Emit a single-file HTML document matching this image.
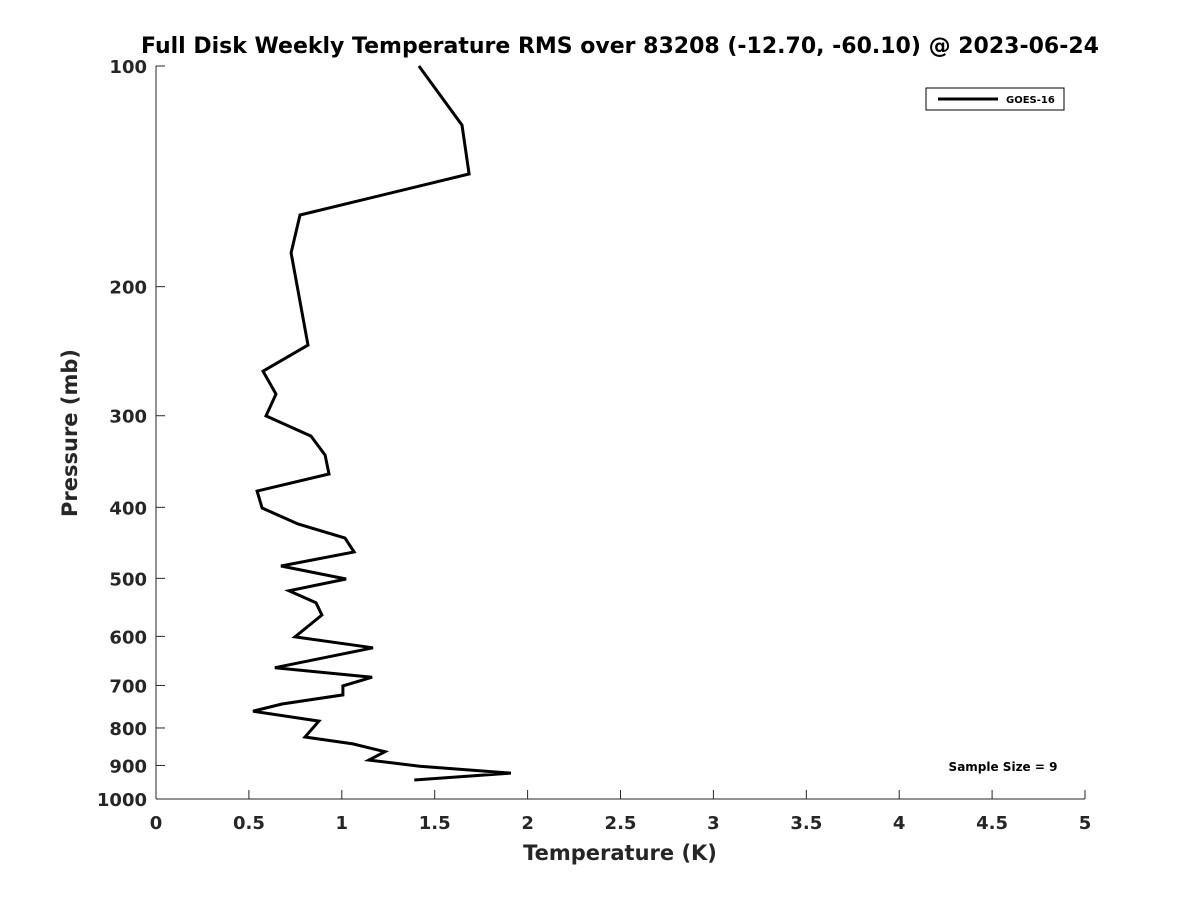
<!DOCTYPE html>
<html><head><meta charset="utf-8"><style>
body{margin:0;background:#fff;}
svg text{font-family:"DejaVu Sans","Liberation Sans",sans-serif;font-weight:bold;}
</style></head><body>
<svg id="chart" width="1200" height="900" viewBox="0 0 1200 900" xmlns="http://www.w3.org/2000/svg">
<rect width="1200" height="900" fill="#fff"/>
<text x="620" y="53" text-anchor="middle" font-size="22" fill="#000">Full Disk Weekly Temperature RMS over 83208 (-12.70, -60.10) @ 2023-06-24</text>
<g id="axes"></g>
<path id="series" fill="none" stroke="#000" stroke-width="3" stroke-linejoin="miter"/>
<g>
<rect x="926" y="88" width="138" height="22" fill="#fff" stroke="#000" stroke-width="1"/>
<line x1="938" y1="99" x2="998" y2="99" stroke="#000" stroke-width="3"/>
<text x="1006" y="103" font-size="10" fill="#000">GOES-16</text>
</g>
<text x="1003" y="771" text-anchor="middle" font-size="12" fill="#000">Sample Size = 9</text>
<text x="620" y="860" text-anchor="middle" font-size="21" fill="#262626">Temperature (K)</text>
<text transform="translate(77,433) rotate(-90)" text-anchor="middle" font-size="21" fill="#262626">Pressure (mb)</text>
</svg>
<script>
const temps = [1.415,1.647,1.685,0.775,0.727,0.818,0.576,0.646,0.592,0.834,0.910,0.931,0.544,0.571,0.764,1.017,1.066,0.673,1.023,0.716,0.861,0.893,0.748,1.168,0.640,1.163,1.006,1.006,0.678,0.522,0.877,0.802,1.06,1.232,1.146,1.42,1.91,1.39];
const pressures = [100,120.4,140.4,159.7,179.9,240.3,260.8,280.3,300.2,319.8,339.5,360.3,380.1,400.9,421.5,440.5,460.3,481,501,520,540,561,601,622,662,682,701,721,742,759,783,823,841,862,885,902,922,942];
const xTicks = [0,0.5,1,1.5,2,2.5,3,3.5,4,4.5,5];
const xTickLabels = ["0","0.5","1","1.5","2","2.5","3","3.5","4","4.5","5"];
const yTicks = [100,200,300,400,500,600,700,800,900,1000];
const yTickLabels = ["100","200","300","400","500","600","700","800","900","1000"];

const X0=156,X1=1085,Y0=66,Y1=799;
function xs(t){return X0+(t-0)/(5-0)*(X1-X0);}
function ys(p){return Y0+Math.log10(p/100)/Math.log10(10)*(Y1-Y0);}
const NS="http://www.w3.org/2000/svg";
const ax=document.getElementById('axes');
function mk(tag,attrs){const e=document.createElementNS(NS,tag);for(const k in attrs)e.setAttribute(k,attrs[k]);return e;}
let l=mk('line',{x1:X0,y1:Y0,x2:X0,y2:Y1,stroke:'#262626','stroke-width':1});


ax.appendChild(l);
l=mk('line',{x1:X0,y1:Y1,x2:X1,y2:Y1,stroke:'#262626','stroke-width':1});


ax.appendChild(l);
xTicks.forEach((t,i)=>{
  const x=xs(t);
  const tk=mk('line',{x1:x,y1:Y1,x2:x,y2:Y1-9,stroke:'#262626','stroke-width':1});
  
  
  ax.appendChild(tk);
  const tx=mk('text',{x:x,y:Y1+30,'text-anchor':'middle','font-size':18,fill:'#262626'});
  tx.textContent=xTickLabels[i];
  
  
  ax.appendChild(tx);
});
yTicks.forEach((p,i)=>{
  const y=ys(p);
  const tk=mk('line',{x1:X0,y1:y,x2:X0+9,y2:y,stroke:'#262626','stroke-width':1});
  
  
  ax.appendChild(tk);
  const tx=mk('text',{x:X0-9,y:y+7,'text-anchor':'end','font-size':18,fill:'#262626'});
  tx.textContent=yTickLabels[i];
  
  
  ax.appendChild(tx);
});
document.getElementById('series').setAttribute('d',temps.map((t,i)=>(i?'L':'M')+xs(t).toFixed(1)+','+ys(pressures[i]).toFixed(1)).join(' '));
</script>
</body></html>
